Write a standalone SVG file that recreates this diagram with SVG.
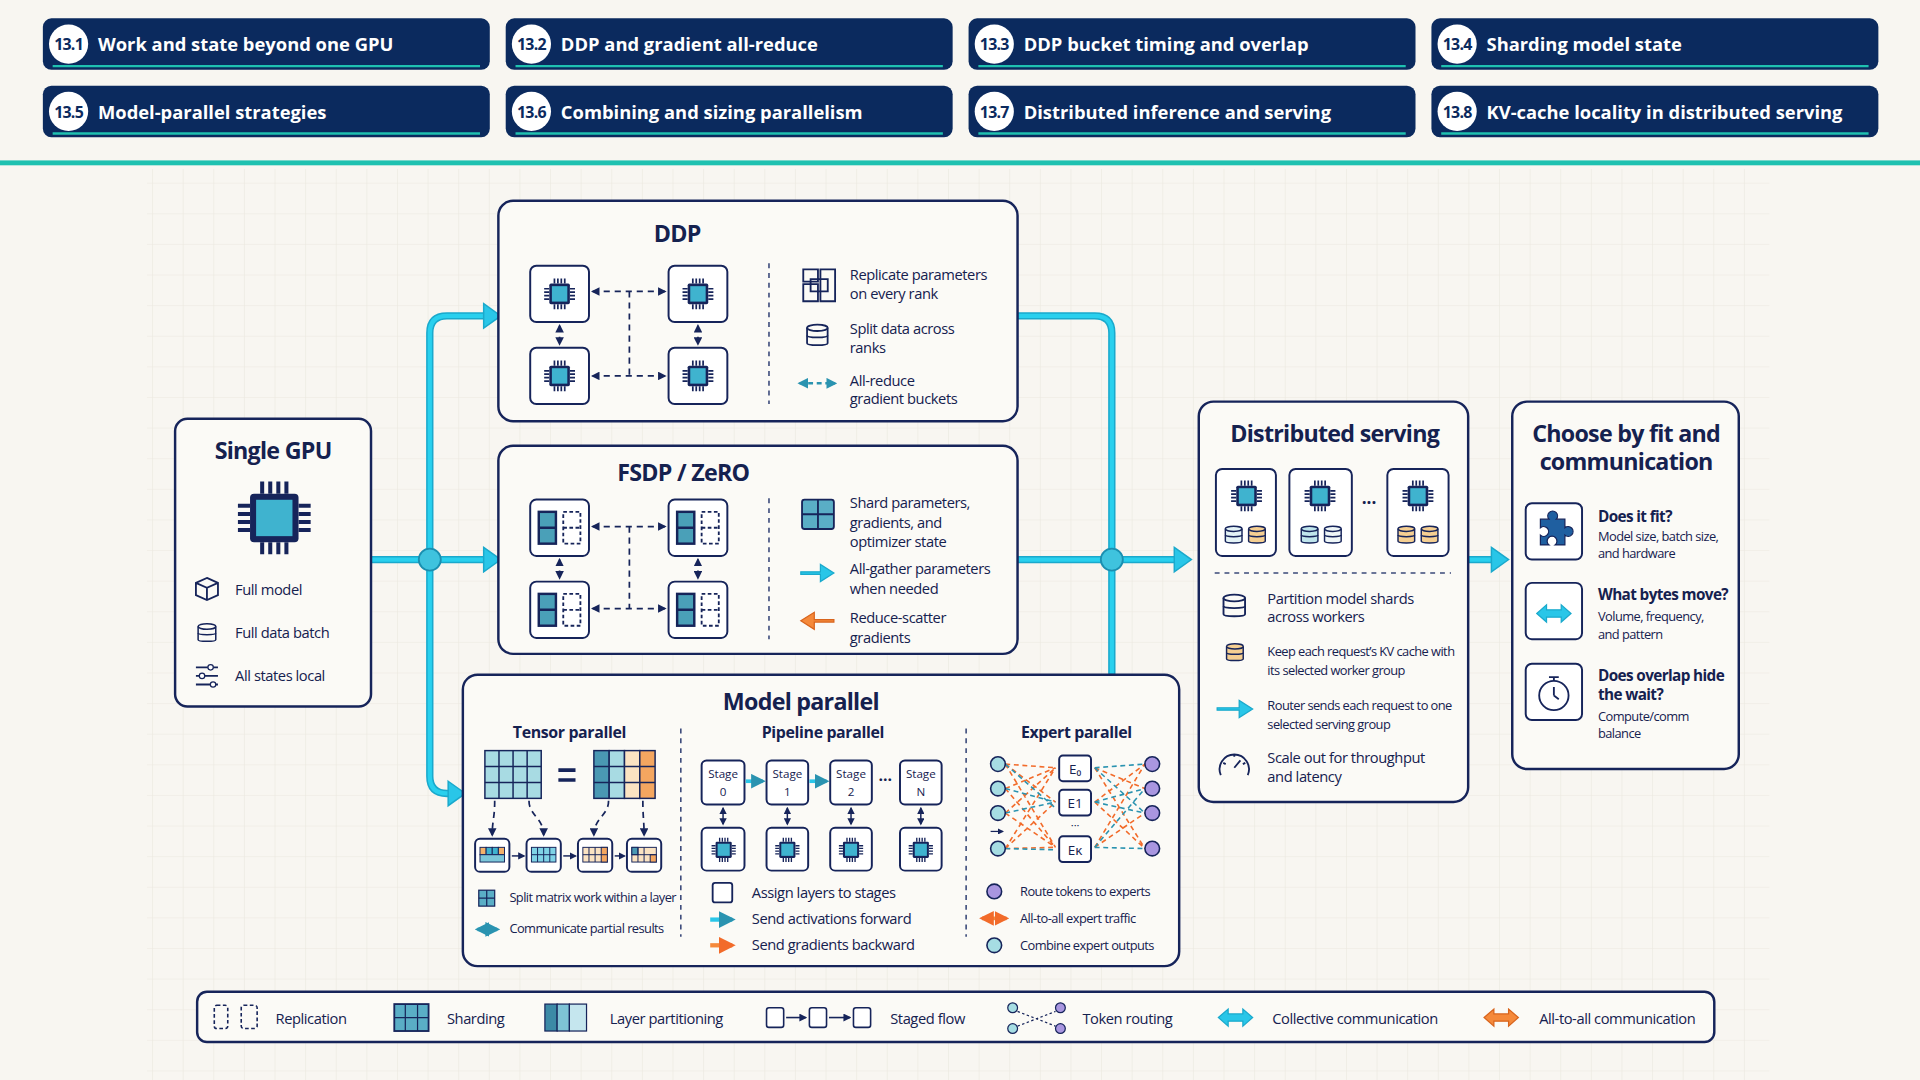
<svg xmlns="http://www.w3.org/2000/svg" width="1920" height="1080" viewBox="0 0 1920 1080">
<style>
text{font-family:"Open Sans","Noto Sans",sans-serif;fill:#15214f}
.h{font-weight:700;fill:#fff;font-size:15px}
.bn{font-weight:700;fill:#0b2a5e;font-size:13px;text-anchor:middle;letter-spacing:-0.6px}
.t{font-weight:700;font-size:19px;text-anchor:middle;letter-spacing:-0.6px}
.st{font-weight:700;font-size:13px;text-anchor:middle;letter-spacing:-0.3px}
.s{font-size:12px;letter-spacing:-0.35px}
.xs{font-size:10.5px;letter-spacing:-0.45px}
.b{font-size:12.5px;font-weight:700;letter-spacing:-0.5px}
.box{fill:#fbfaf6;stroke:#16245a;stroke-width:2}
.sb{fill:#fff;stroke:#16245a;stroke-width:1.6}
.dash{fill:none;stroke:#16245a;stroke-width:1.4;stroke-dasharray:5 4}
.vd{fill:none;stroke:#3b4a7a;stroke-width:1.3;stroke-dasharray:4 4}
.pipe{fill:none;stroke:#1aa9cc;stroke-width:6;stroke-linecap:round}
.pipe2{fill:none;stroke:#29d0ee;stroke-width:3.5}
.ic{fill:none;stroke:#16245a;stroke-width:1.5}
.o{stroke:#f26b2a;stroke-width:1.3;stroke-dasharray:4 3;fill:none}
.c{stroke:#2a93b0;stroke-width:1.3;stroke-dasharray:4 3;fill:none}
</style>
<defs>
<pattern id="grid" width="25" height="25" patternUnits="userSpaceOnUse"><path d="M25 0V25H0" fill="none" stroke="#ebe8df" stroke-width="1"/></pattern>
<symbol id="chip" viewBox="0 0 40 40"><g stroke="#16245a" stroke-width="2"><path d="M14 2v6M18 2v6M22 2v6M26 2v6M14 32v6M18 32v6M22 32v6M26 32v6M2 14h6M2 18h6M2 22h6M2 26h6M32 14h6M32 18h6M32 22h6M32 26h6"/></g><rect x="8" y="8" width="24" height="24" rx="2" fill="#16245a"/><rect x="11" y="11" width="18" height="18" fill="#3fb3cf"/></symbol>
<symbol id="db" viewBox="0 0 20 20"><path d="M2 4v12c0 2 16 2 16 0V4" fill="currentColor" stroke="#16245a" stroke-width="1.4"/><ellipse cx="10" cy="4" rx="8" ry="2.5" fill="currentColor" stroke="#16245a" stroke-width="1.4"/><path d="M2 10c0 2 16 2 16 0" fill="none" stroke="#16245a" stroke-width="1.4"/></symbol>
<symbol id="shard" viewBox="0 0 40 30"><rect x="2" y="2" width="14" height="26" fill="#4aa0b8" stroke="#16245a" stroke-width="2"/><path d="M2 15h14" stroke="#16245a" stroke-width="2"/><rect x="22" y="2" width="14" height="26" fill="none" stroke="#16245a" stroke-width="1.5" stroke-dasharray="3 2"/><path d="M22 15h14" stroke="#16245a" stroke-width="1.5" stroke-dasharray="3 2"/></symbol>
<marker id="ah" viewBox="0 0 10 10" refX="8" refY="5" markerWidth="5" markerHeight="5" orient="auto-start-reverse"><path d="M0 0L10 5L0 10z" fill="#16245a"/></marker>
<marker id="ao" viewBox="0 0 10 10" refX="8" refY="5" markerWidth="4" markerHeight="4" orient="auto-start-reverse"><path d="M0 0L10 5L0 10z" fill="#f26b2a"/></marker>
<marker id="ac" viewBox="0 0 10 10" refX="8" refY="5" markerWidth="4" markerHeight="4" orient="auto-start-reverse"><path d="M0 0L10 5L0 10z" fill="#2a93b0"/></marker>
</defs>
<g transform="scale(1.22449)">
<rect width="1568" height="882" fill="#f8f6f1"/>
<rect x="120" y="138" width="1325" height="744" fill="url(#grid)"/>
<g id="headers">
<g id="h1"><rect x="35" y="15" width="365" height="42" rx="7" fill="#0b2a5e"/><path d="M43 54H392" stroke="#1fc1b0" stroke-width="2"/><circle cx="56" cy="36" r="16" fill="#fff"/><text class="bn" x="56" y="41">13.1</text><text class="h" x="80" y="42">Work and state beyond one GPU</text></g>
<g id="h2"><rect x="413" y="15" width="365" height="42" rx="7" fill="#0b2a5e"/><path d="M421 54H770" stroke="#1fc1b0" stroke-width="2"/><circle cx="434" cy="36" r="16" fill="#fff"/><text class="bn" x="434" y="41">13.2</text><text class="h" x="458" y="42">DDP and gradient all-reduce</text></g>
<g id="h3"><rect x="791" y="15" width="365" height="42" rx="7" fill="#0b2a5e"/><path d="M799 54H1148" stroke="#1fc1b0" stroke-width="2"/><circle cx="812" cy="36" r="16" fill="#fff"/><text class="bn" x="812" y="41">13.3</text><text class="h" x="836" y="42">DDP bucket timing and overlap</text></g>
<g id="h4"><rect x="1169" y="15" width="365" height="42" rx="7" fill="#0b2a5e"/><path d="M1177 54H1526" stroke="#1fc1b0" stroke-width="2"/><circle cx="1190" cy="36" r="16" fill="#fff"/><text class="bn" x="1190" y="41">13.4</text><text class="h" x="1214" y="42">Sharding model state</text></g>
<g id="h5"><rect x="35" y="70" width="365" height="42" rx="7" fill="#0b2a5e"/><path d="M43 109H392" stroke="#1fc1b0" stroke-width="2"/><circle cx="56" cy="91" r="16" fill="#fff"/><text class="bn" x="56" y="96">13.5</text><text class="h" x="80" y="97">Model-parallel strategies</text></g>
<g id="h6"><rect x="413" y="70" width="365" height="42" rx="7" fill="#0b2a5e"/><path d="M421 109H770" stroke="#1fc1b0" stroke-width="2"/><circle cx="434" cy="91" r="16" fill="#fff"/><text class="bn" x="434" y="96">13.6</text><text class="h" x="458" y="97">Combining and sizing parallelism</text></g>
<g id="h7"><rect x="791" y="70" width="365" height="42" rx="7" fill="#0b2a5e"/><path d="M799 109H1148" stroke="#1fc1b0" stroke-width="2"/><circle cx="812" cy="91" r="16" fill="#fff"/><text class="bn" x="812" y="96">13.7</text><text class="h" x="836" y="97">Distributed inference and serving</text></g>
<g id="h8"><rect x="1169" y="70" width="365" height="42" rx="7" fill="#0b2a5e"/><path d="M1177 109H1526" stroke="#1fc1b0" stroke-width="2"/><circle cx="1190" cy="91" r="16" fill="#fff"/><text class="bn" x="1190" y="96">13.8</text><text class="h" x="1214" y="97">KV-cache locality in distributed serving</text></g>
</g>
<rect x="0" y="131" width="1568" height="4" fill="#1fc1b0"/>

<g id="connectors">
<path class="pipe" d="M303 457H398M351 457V272q0-14 14-14H398M351 457V634q0 14 14 14H369M831 258H894q14 0 14 14V550M831 457H962M1200 457H1222"/>
<path class="pipe2" d="M303 457H398M351 457V272q0-14 14-14H398M351 457V634q0 14 14 14H369M831 258H894q14 0 14 14V550M831 457H962M1200 457H1222"/>
<path d="M395 447L409 457L395 467zM395 248L409 258L395 268zM366 638L380 648L366 658zM959 447L973 457L959 467zM1218 447L1232 457L1218 467z" fill="#29c6e8" stroke="#1aa9cc" stroke-width="1.2"/>
<circle cx="351" cy="457" r="9" fill="#3fc3de" stroke="#1a8fb0" stroke-width="1.5"/>
<circle cx="908" cy="457" r="9" fill="#3fc3de" stroke="#1a8fb0" stroke-width="1.5"/>
</g>

<g id="single-gpu">
<rect class="box" x="143" y="342" width="160" height="235" rx="10"/>
<text class="t" x="223" y="375">Single GPU</text>
<use href="#chip" x="191" y="390" width="66" height="66"/>
<path class="ic" d="M169 472l9 4v10l-9 4-9-4v-10zM160 476l9 4 9-4M169 480v10"/>
<use href="#db" x="160" y="507" width="18" height="20" color="#fbfaf6"/>
<path class="ic" d="M160 545h18M160 552h18M160 559h18"/><circle cx="172" cy="545" r="2.2" fill="#fff" stroke="#16245a"/><circle cx="165" cy="552" r="2.2" fill="#fff" stroke="#16245a"/><circle cx="174" cy="559" r="2.2" fill="#fff" stroke="#16245a"/>
<text class="s" x="192" y="486">Full model</text>
<text class="s" x="192" y="521">Full data batch</text>
<text class="s" x="192" y="556">All states local</text>
</g>

<g id="ddp">
<rect class="box" x="407" y="164" width="424" height="180" rx="12"/>
<text class="t" x="553" y="198">DDP</text>
<rect class="sb" x="433" y="217" width="48" height="46" rx="5"/><use href="#chip" x="443" y="226" width="28" height="28"/>
<rect class="sb" x="546" y="217" width="48" height="46" rx="5"/><use href="#chip" x="556" y="226" width="28" height="28"/>
<rect class="sb" x="433" y="284" width="48" height="46" rx="5"/><use href="#chip" x="443" y="293" width="28" height="28"/>
<rect class="sb" x="546" y="284" width="48" height="46" rx="5"/><use href="#chip" x="556" y="293" width="28" height="28"/>
<path class="dash" d="M484 238H543" marker-start="url(#ah)" marker-end="url(#ah)"/>
<path class="dash" d="M484 307H543" marker-start="url(#ah)" marker-end="url(#ah)"/>
<path class="dash" d="M514 238V307"/>
<path class="dash" d="M457 266V281" stroke-dasharray="3 2" marker-start="url(#ah)" marker-end="url(#ah)"/>
<path class="dash" d="M570 266V281" stroke-dasharray="3 2" marker-start="url(#ah)" marker-end="url(#ah)"/>
<path class="vd" d="M628 215V330"/>
<path class="ic" d="M656 220h12v10h-12zM670 220h12v26h-12zM656 232h12v14h-12zM662 228h14v10h-14z"/>
<use href="#db" x="657" y="262" width="21" height="24" color="#fbfaf6"/>
<path d="M653 313H682" stroke="#2a93b0" stroke-width="2.2" stroke-dasharray="4 3" marker-start="url(#ac)" marker-end="url(#ac)"/>
<text class="s" x="694" y="229">Replicate parameters</text><text class="s" x="694" y="244">on every rank</text>
<text class="s" x="694" y="273">Split data across</text><text class="s" x="694" y="288">ranks</text>
<text class="s" x="694" y="315">All-reduce</text><text class="s" x="694" y="330">gradient buckets</text>
</g>

<g id="fsdp">
<rect class="box" x="407" y="364" width="424" height="170" rx="12"/>
<text class="t" x="558" y="393">FSDP / ZeRO</text>
<rect class="sb" x="433" y="408" width="48" height="46" rx="5"/><use href="#shard" x="438" y="416" width="40" height="30"/>
<rect class="sb" x="546" y="408" width="48" height="46" rx="5"/><use href="#shard" x="551" y="416" width="40" height="30"/>
<rect class="sb" x="433" y="475" width="48" height="46" rx="5"/><use href="#shard" x="438" y="483" width="40" height="30"/>
<rect class="sb" x="546" y="475" width="48" height="46" rx="5"/><use href="#shard" x="551" y="483" width="40" height="30"/>
<path class="dash" d="M484 430H543" marker-start="url(#ah)" marker-end="url(#ah)"/>
<path class="dash" d="M484 497H543" marker-start="url(#ah)" marker-end="url(#ah)"/>
<path class="dash" d="M514 430V497"/>
<path class="dash" d="M457 457V472" stroke-dasharray="3 2" marker-start="url(#ah)" marker-end="url(#ah)"/>
<path class="dash" d="M570 457V472" stroke-dasharray="3 2" marker-start="url(#ah)" marker-end="url(#ah)"/>
<path class="vd" d="M628 407V522"/>
<rect x="655" y="408" width="26" height="24" rx="2" fill="#5aaec6" stroke="#16245a" stroke-width="1.5"/><path d="M655 420h26M668 408v24" stroke="#16245a" stroke-width="1.5"/>
<path d="M654 467h16v-6l11 7-11 7v-6h-16z" fill="#29c6e8" stroke="#1aa9cc"/>
<path d="M681 506h-16v-6l-11 7 11 7v-6h16z" fill="#f5893a" stroke="#d8641c"/>
<text class="s" x="694" y="415">Shard parameters,</text><text class="s" x="694" y="431">gradients, and</text><text class="s" x="694" y="447">optimizer state</text>
<text class="s" x="694" y="469">All-gather parameters</text><text class="s" x="694" y="485">when needed</text>
<text class="s" x="694" y="509">Reduce-scatter</text><text class="s" x="694" y="525">gradients</text>
</g>

<g id="model-parallel">
<rect class="box" x="378" y="551" width="585" height="238" rx="12"/>
<text class="t" x="654" y="580">Model parallel</text>
<path class="vd" d="M556 595V765M789 595V765"/>
<text class="st" x="465" y="603">Tensor parallel</text>
<text class="st" x="672" y="603">Pipeline parallel</text>
<text class="st" x="879" y="603">Expert parallel</text>
<g stroke="#16245a" stroke-width="1.2">
<rect x="396" y="613" width="46" height="39" fill="#a8dbe3"/>
<path d="M407.5 613v39M419 613v39M430.5 613v39M396 626h46M396 639h46" fill="none"/>
<rect x="485" y="613" width="12.5" height="39" fill="#4a98b3"/><rect x="497.5" y="613" width="12.5" height="39" fill="#a8dbe3"/><rect x="510" y="613" width="12.5" height="39" fill="#fbe3c2"/><rect x="522.5" y="613" width="12.5" height="39" fill="#f4a660"/>
<path d="M485 626h50M485 639h50" fill="none"/>
</g>
<path d="M456 629h14M456 637h14" stroke="#16245a" stroke-width="3"/>
<path class="dash" d="M404 654c0 14 -2 16 -2 28" stroke-dasharray="3 3" marker-end="url(#ah)"/>
<path class="dash" d="M432 654c0 12 12 14 12 28" stroke-dasharray="3 3" marker-end="url(#ah)"/>
<path class="dash" d="M497 654c0 12 -12 14 -12 28" stroke-dasharray="3 3" marker-end="url(#ah)"/>
<path class="dash" d="M525 654c0 14 1 16 1 28" stroke-dasharray="3 3" marker-end="url(#ah)"/>
<g id="tp-cells">
<rect class="sb" x="388" y="685" width="28" height="27" rx="4"/><rect class="sb" x="430" y="685" width="28" height="27" rx="4"/><rect class="sb" x="472" y="685" width="28" height="27" rx="4"/><rect class="sb" x="512" y="685" width="28" height="27" rx="4"/>
<g stroke="#16245a" stroke-width="0.8">
<rect x="392" y="692" width="5" height="6" fill="#f4b26a"/><rect x="397" y="692" width="5" height="6" fill="#3fb3cf"/><rect x="402" y="692" width="5" height="6" fill="#3fb3cf"/><rect x="407" y="692" width="5" height="6" fill="#f4b26a"/><rect x="392" y="698" width="20" height="6" fill="#7cc7d9"/>
<rect x="434" y="692" width="20" height="12" fill="#7fd3e6"/><path d="M439 692v12M444 692v12M449 692v12M434 698h20" fill="none"/>
<rect x="476" y="692" width="20" height="12" fill="#fbe3c2"/><rect x="491" y="692" width="5" height="12" fill="#f4a660"/><path d="M481 692v12M486 692v12M476 698h20" fill="none"/>
<rect x="516" y="692" width="20" height="12" fill="#fbe3c2"/><rect x="516" y="692" width="5" height="6" fill="#4a98b3"/><rect x="531" y="698" width="5" height="6" fill="#f4a660"/><path d="M521 692v12M526 692v12M516 698h20" fill="none"/>
</g>
<path d="M418 699H428" stroke="#16245a" stroke-width="1.2" marker-end="url(#ah)"/>
<path d="M460 699H470" stroke="#16245a" stroke-width="1.2" marker-end="url(#ah)"/>
<path d="M502 699H510" stroke="#16245a" stroke-width="1.2" marker-end="url(#ah)"/>
</g>
<rect x="391" y="727" width="13" height="13" fill="#5aaec6" stroke="#16245a"/><path d="M391 733.5h13M397.5 727v13" stroke="#16245a"/>
<path d="M390 759H406" stroke="#29c6e8" stroke-width="3" marker-start="url(#ac)" marker-end="url(#ac)"/>
<text class="xs" x="416" y="737">Split matrix work within a layer</text>
<text class="xs" x="416" y="762">Communicate partial results</text>
<g>
<rect class="sb" x="573" y="621" width="35" height="36" rx="4"/><rect class="sb" x="626" y="621" width="34" height="36" rx="4"/><rect class="sb" x="678" y="621" width="34" height="36" rx="4"/><rect class="sb" x="735" y="621" width="34" height="36" rx="4"/>
<g font-size="9.5" text-anchor="middle"><text x="590.5" y="635">Stage</text><text x="590.5" y="650">0</text><text x="643" y="635">Stage</text><text x="643" y="650">1</text><text x="695" y="635">Stage</text><text x="695" y="650">2</text><text x="752" y="635">Stage</text><text x="752" y="650">N</text></g>
<text x="723" y="641" font-size="13" font-weight="700" text-anchor="middle">···</text>
<path d="M609 638H623" stroke="#29c6e8" stroke-width="3" marker-end="url(#ac)"/>
<path d="M661 638H675" stroke="#29c6e8" stroke-width="3" marker-end="url(#ac)"/>
<rect class="sb" x="573" y="676" width="35" height="35" rx="4"/><rect class="sb" x="626" y="676" width="34" height="35" rx="4"/><rect class="sb" x="678" y="676" width="34" height="35" rx="4"/><rect class="sb" x="735" y="676" width="34" height="35" rx="4"/>
<use href="#chip" x="580" y="683" width="22" height="22"/><use href="#chip" x="632" y="683" width="22" height="22"/><use href="#chip" x="684" y="683" width="22" height="22"/><use href="#chip" x="741" y="683" width="22" height="22"/>
<path d="M590.5 660V673" stroke="#16245a" stroke-width="1.2" marker-start="url(#ah)" marker-end="url(#ah)"/>
<path d="M643 660V673" stroke="#16245a" stroke-width="1.2" marker-start="url(#ah)" marker-end="url(#ah)"/>
<path d="M695 660V673" stroke="#16245a" stroke-width="1.2" marker-start="url(#ah)" marker-end="url(#ah)"/>
<path d="M752 660V673" stroke="#16245a" stroke-width="1.2" marker-start="url(#ah)" marker-end="url(#ah)"/>
<rect x="582" y="721" width="16" height="16" rx="2" fill="#fff" stroke="#16245a" stroke-width="1.5"/>
<path d="M580 751H598" stroke="#29c6e8" stroke-width="3.5" marker-end="url(#ac)"/>
<path d="M580 772H598" stroke="#f5893a" stroke-width="3.5" marker-end="url(#ao)"/>
<text class="s" x="614" y="733">Assign layers to stages</text><text class="s" x="614" y="755">Send activations forward</text><text class="s" x="614" y="776">Send gradients backward</text>
</g>
<g>
<path class="o" d="M821 624L862 627M821 624L862 655M821 624L862 692M821 644L862 627M821 644L862 692M821 664L862 627M821 664L862 692M821 693L862 627M821 693L862 655M821 693L862 692"/>
<path class="c" d="M821 644L862 655M821 664L862 655M821 693L862 694M821 624L862 660"/>
<path class="o" d="M894 627L935 644M894 627L935 693M894 655L935 624M894 655L935 693M894 692L935 624M894 692L935 664"/>
<path class="c" d="M894 627L935 624M894 655L935 664M894 692L935 693M894 627L935 664M894 655L935 644M894 692L935 644"/>
<g fill="#a6dde3" stroke="#16245a" stroke-width="1.3"><circle cx="815" cy="624" r="6"/><circle cx="815" cy="644" r="6"/><circle cx="815" cy="664" r="6"/><circle cx="815" cy="693" r="6"/></g>
<g fill="#a996e0" stroke="#16245a" stroke-width="1.3"><circle cx="941" cy="624" r="6"/><circle cx="941" cy="644" r="6"/><circle cx="941" cy="664" r="6"/><circle cx="941" cy="693" r="6"/></g>
<path d="M809 679h10" stroke="#16245a" stroke-width="1" marker-end="url(#ah)"/>
<rect class="sb" x="865" y="617" width="26" height="21" rx="3"/><rect class="sb" x="865" y="645" width="26" height="21" rx="3"/><rect class="sb" x="865" y="683" width="26" height="21" rx="3"/>
<g font-size="11" text-anchor="middle"><text x="878" y="632">E₀</text><text x="878" y="660">E1</text><text x="878" y="698">Eκ</text><text x="878" y="677" font-size="9">···</text></g>
<circle cx="812" cy="728" r="6" fill="#a996e0" stroke="#16245a" stroke-width="1.3"/>
<path d="M802 750H822" stroke="#f5893a" stroke-width="3" marker-start="url(#ao)" marker-end="url(#ao)"/>
<circle cx="812" cy="772" r="6" fill="#a6dde3" stroke="#16245a" stroke-width="1.3"/>
<text class="xs" x="833" y="732" font-size="11.2">Route tokens to experts</text><text class="xs" x="833" y="754" font-size="11.2">All-to-all expert traffic</text><text class="xs" x="833" y="776" font-size="11.2">Combine expert outputs</text>
</g>
</g>

<g id="distributed-serving">
<rect class="box" x="979" y="328" width="220" height="327" rx="12"/>
<text class="t" x="1090" y="361">Distributed serving</text>
<rect class="sb" x="993" y="383" width="49" height="71" rx="5"/><rect class="sb" x="1053" y="383" width="51" height="71" rx="5"/><rect class="sb" x="1133" y="383" width="50" height="71" rx="5"/>
<use href="#chip" x="1004" y="391" width="28" height="28"/><use href="#chip" x="1064" y="391" width="28" height="28"/><use href="#chip" x="1144" y="391" width="28" height="28"/>
<use href="#db" x="999" y="428" width="17" height="18" color="#e4f3f6"/><use href="#db" x="1018" y="428" width="17" height="18" color="#f5cf92"/>
<use href="#db" x="1061" y="428" width="17" height="18" color="#bfe5ec"/><use href="#db" x="1080" y="428" width="17" height="18" color="#eef6f7"/>
<use href="#db" x="1140" y="428" width="17" height="18" color="#f5cf92"/><use href="#db" x="1159" y="428" width="17" height="18" color="#f5cf92"/>
<text x="1118" y="416" font-size="14" font-weight="700" text-anchor="middle">···</text>
<path class="vd" d="M992 468H1185"/>
<use href="#db" x="997" y="483" width="22" height="24" color="#fbfaf6"/>
<use href="#db" x="1000" y="524" width="17" height="18" color="#f5cf92"/>
<path d="M994 578h18v-6l11 7-11 7v-6h-18z" fill="#29c6e8" stroke="#1aa9cc"/>
<path class="ic" d="M997 633a12 12 0 1 1 22 0M1008 627l5-6M999 623l2 1M1008 616v2M1017 623l-2 1" stroke-width="1.6"/>
<text class="s" x="1035" y="493">Partition model shards</text><text class="s" x="1035" y="508">across workers</text>
<text class="xs" x="1035" y="536">Keep each request’s KV cache with</text><text class="xs" x="1035" y="551">its selected worker group</text>
<text class="xs" x="1035" y="580">Router sends each request to one</text><text class="xs" x="1035" y="595">selected serving group</text>
<text class="s" x="1035" y="623">Scale out for throughput</text><text class="s" x="1035" y="639">and latency</text>
</g>

<g id="choose">
<rect class="box" x="1235" y="328" width="185" height="300" rx="12"/>
<text class="t" x="1328" y="361">Choose by fit and</text><text class="t" x="1328" y="384">communication</text>
<rect class="sb" x="1246" y="411" width="46" height="46" rx="5"/><rect class="sb" x="1246" y="476" width="46" height="46" rx="5"/><rect class="sb" x="1246" y="542" width="46" height="46" rx="5"/>
<path d="M1258 424h7a4 4 0 1 1 6 0h7v7a4 4 0 1 1 0 6v8h-8a4 4 0 1 0 -5 0h-7v-8a4 4 0 1 0 0-6z" fill="#1f5fa0" stroke="#16245a"/>
<path d="M1255 501l8-7v4h12v-4l8 7-8 7v-4h-12v4z" fill="#29c6e8" stroke="#1aa9cc"/>
<circle cx="1269" cy="568" r="12" class="ic" stroke-width="1.8"/><path class="ic" d="M1265 553h8M1269 553v3M1269 568v-7M1269 568l4 3" stroke-width="1.8"/>
<text class="b" x="1305" y="426">Does it fit?</text><text class="xs" x="1305" y="442">Model size, batch size,</text><text class="xs" x="1305" y="456">and hardware</text>
<text class="b" x="1305" y="490">What bytes move?</text><text class="xs" x="1305" y="507">Volume, frequency,</text><text class="xs" x="1305" y="522">and pattern</text>
<text class="b" x="1305" y="556">Does overlap hide</text><text class="b" x="1305" y="572">the wait?</text><text class="xs" x="1305" y="589">Compute/comm</text><text class="xs" x="1305" y="603">balance</text>
</g>

<g id="legend">
<rect x="161" y="810" width="1239" height="41" rx="8" fill="#fbfaf6" stroke="#16245a" stroke-width="2"/>
<rect x="175" y="821" width="11" height="19" rx="2" fill="none" stroke="#16245a" stroke-width="1.3" stroke-dasharray="3 2"/><rect x="197" y="821" width="13" height="19" rx="2" fill="none" stroke="#16245a" stroke-width="1.3" stroke-dasharray="3 2"/>
<text class="s" x="225" y="836">Replication</text>
<rect x="322" y="820" width="28" height="22" fill="#5aaec6" stroke="#16245a" stroke-width="1.5"/><path d="M331 820v22M341 820v22M322 831h28" stroke="#16245a"/>
<text class="s" x="365" y="836">Sharding</text>
<rect x="445" y="820" width="10" height="22" fill="#3c8aa6" stroke="#16245a"/><rect x="455" y="820" width="10" height="22" fill="#7ec3d5" stroke="#16245a"/><rect x="465" y="820" width="14" height="22" fill="#c5e6ee" stroke="#16245a"/>
<text class="s" x="498" y="836">Layer partitioning</text>
<rect x="626" y="823" width="14" height="16" rx="2" fill="#fff" stroke="#16245a" stroke-width="1.3"/><rect x="661" y="823" width="14" height="16" rx="2" fill="#fff" stroke="#16245a" stroke-width="1.3"/><rect x="697" y="823" width="14" height="16" rx="2" fill="#fff" stroke="#16245a" stroke-width="1.3"/>
<path d="M642 831H658" stroke="#16245a" stroke-width="1.3" marker-end="url(#ah)"/>
<path d="M677 831H694" stroke="#16245a" stroke-width="1.3" marker-end="url(#ah)"/>
<text class="s" x="727" y="836">Staged flow</text>
<circle cx="827" cy="823" r="4" fill="#a6dde3" stroke="#16245a"/><circle cx="827" cy="840" r="4" fill="#a6dde3" stroke="#16245a"/><circle cx="866" cy="823" r="4" fill="#a996e0" stroke="#16245a"/><circle cx="866" cy="840" r="4" fill="#a996e0" stroke="#16245a"/>
<path d="M831 826L862 838M831 838L862 826" stroke="#16245a" stroke-dasharray="2 2"/>
<text class="s" x="884" y="836">Token routing</text>
<path d="M995 831l8-7v4h12v-4l8 7-8 7v-4h-12v4z" fill="#29c6e8" stroke="#1aa9cc"/>
<text class="s" x="1039" y="836">Collective communication</text>
<path d="M1212 831l8-7v4h12v-4l8 7-8 7v-4h-12v4z" fill="#f5893a" stroke="#d8641c"/>
<text class="s" x="1257" y="836">All-to-all communication</text>
</g>
</g>
</svg>
